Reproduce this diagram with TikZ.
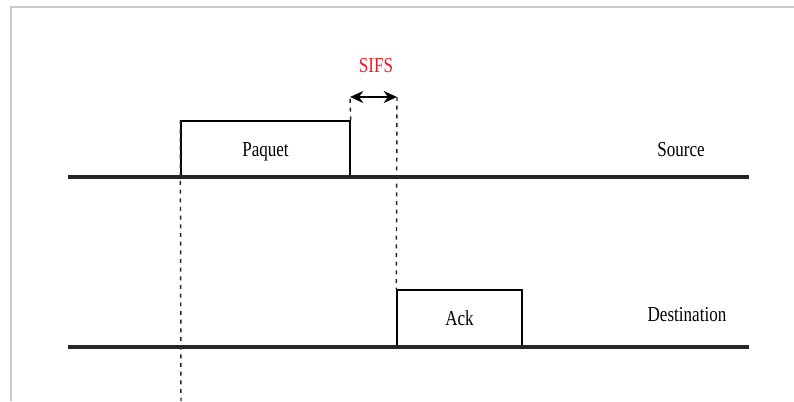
\documentclass[tikz,border=0pt]{standalone}
\usepackage{fontspec}
\setmainfont[FakeStretch=0.8]{Liberation Serif}
\usetikzlibrary{arrows.meta}
\definecolor{sifsred}{RGB}{237,28,36}
\definecolor{framegray}{RGB}{205,200,200}
\tikzset{
  timeline/.style={line width=2.4pt, draw=black!85},
  frame/.style={line width=1.1pt, draw=framegray},
  slot/.style={draw, line width=1.1pt, inner sep=0pt},
  limit/.style={line width=1.1pt, draw=black!85, dash pattern=on 3pt off 3.5pt},
  label/.style={font=\fontsize{16}{19}\selectfont, text height=10.6pt, text depth=0pt}
}
\begin{document}
\begin{tikzpicture}[x=0.75pt, y=-0.75pt, label]
      \useasboundingbox (0,0) rectangle (794,401);
      \draw[frame] (11,401) -- (11,7) -- (794,7);
      \draw
        (68,177) coordinate (srcL)
        (749,177) coordinate (srcR)
        (68,347) coordinate (dstL)
        (749,347) coordinate (dstR)
        (350,97) coordinate (sifsL)
        (397,97) coordinate (sifsR)
        (181,401) coordinate (bottom);
      \node[slot, minimum width=126.75pt, minimum height=42pt] (paquet) at (265.5,149) {Paquet};
      \node[slot, minimum width=93.75pt, minimum height=42.75pt] (ack) at (459.5,318.5) {Ack};
      \node (source) at (681,149.5) {Source};
      \node (destination) at (687,314.5) {Destination};
      \node[text=sifsred] (sifs) at (376,65.5) {SIFS};
      \begin{scope}[limit]
        \draw (paquet.north west) to (bottom);
        \draw (paquet.north east) to (sifsL);
        \draw (sifsR) to (ack.north west);
      \end{scope}
      \draw[line width=1.1pt, {Stealth[length=10pt,width=9pt]}-{Stealth[length=10pt,width=9pt]}] (sifsL) to (sifsR);
      \draw[timeline] (srcL) to (srcR);
      \draw[timeline] (dstL) to (dstR);
    \end{tikzpicture}
\end{document}
